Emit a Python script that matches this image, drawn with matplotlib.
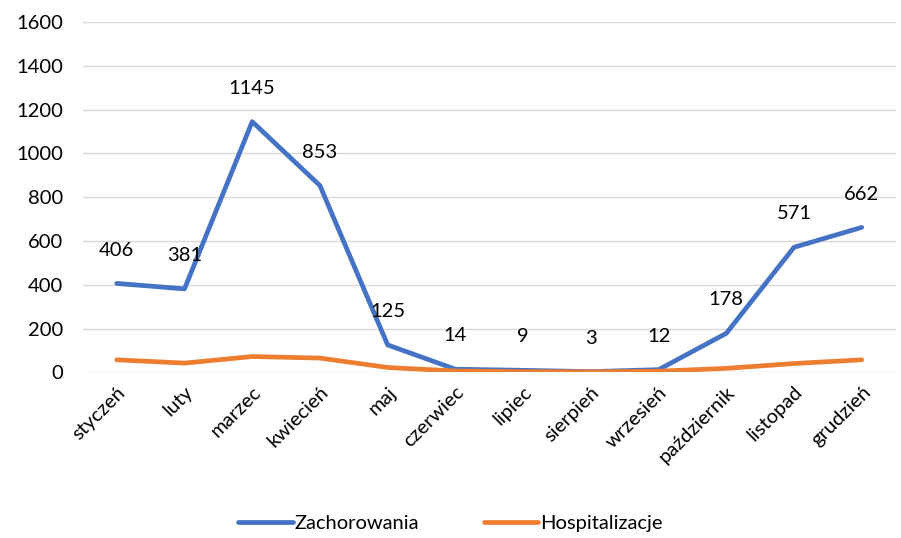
import matplotlib.pyplot as plt

# monthly data
months = ['styczeń', 'luty', 'marzec', 'kwiecień', 'maj', 'czerwiec', 'lipiec',
          'sierpień', 'wrzesień', 'październik', 'listopad', 'grudzień']
zachorowania = [406, 381, 1145, 853, 125, 14, 9, 3, 12, 178, 571, 662]
hospitalizacje = [57, 42, 72, 65, 22, 6, 3, 2, 5, 18, 40, 57]

plt.rcParams['font.family'] = ['Lato', 'DejaVu Sans']

fig = plt.figure(figsize=(9.01, 5.38), dpi=100)
ax = fig.add_axes([0.092, 0.308, 0.902, 0.651])

x = list(range(len(months)))
ax.plot(x, zachorowania, color='#4472C4', lw=3.4, label='Zachorowania', solid_capstyle='round')
ax.plot(x, hospitalizacje, color='#ED7D31', lw=3.4, label='Hospitalizacje', solid_capstyle='round')

for xi, v in zip(x, zachorowania):
    ax.annotate(str(v), (xi, v), xytext=(0, 24), textcoords='offset points',
                ha='center', va='center', fontsize=14.5)

ax.set_xlim(-0.5, len(months) - 0.5)
ax.set_ylim(0, 1600)
ax.set_yticks(range(0, 1601, 200))
ax.set_xticks(x)
ax.set_xticklabels(months, rotation=45, ha='right', rotation_mode='anchor', fontsize=14.5)
ax.tick_params(axis='y', labelsize=14.5, length=0, pad=14)
ax.tick_params(axis='x', length=0, pad=8)
ax.grid(axis='y', color='#d9d9d9', lw=1)
ax.set_axisbelow(True)
for s in ax.spines.values():
    s.set_visible(False)

fig.legend(loc='lower center', ncol=2, frameon=False, fontsize=14.5,
           bbox_to_anchor=(0.5, -0.022), handlelength=2.7, columnspacing=3.2, handletextpad=0.1)

fig.savefig('out.png', dpi=100)
